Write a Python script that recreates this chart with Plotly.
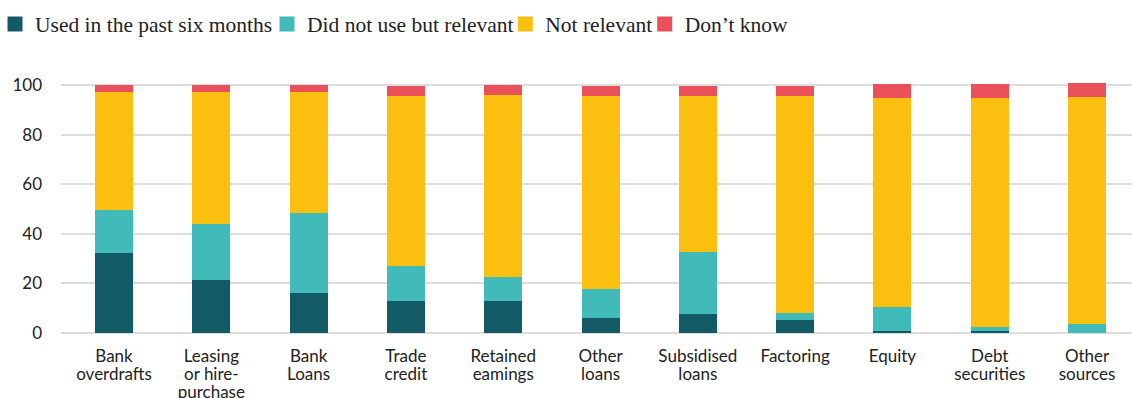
import plotly.graph_objects as go

categories = ["Bank<br>overdrafts", "Leasing<br>or hire-<br>purchase", "Bank<br>Loans", "Trade<br>credit",
              "Retained<br>eamings", "Other<br>loans", "Subsidised<br>loans", "Factoring", "Equity",
              "Debt<br>securities", "Other<br>sources"]
used = [32.3, 21.4, 16.2, 12.9, 12.9, 6.1, 7.7, 5.3, 0.6, 0.6, 0]
relevant = [17.4, 22.7, 32.3, 14.2, 9.6, 11.7, 25.0, 2.8, 9.9, 1.8, 3.6]
not_relevant = [47.7, 53.3, 48.9, 68.7, 73.7, 78.0, 63.1, 87.7, 84.5, 92.6, 91.8]
dont_know = [2.8, 2.8, 2.8, 4.0, 4.0, 4.0, 4.0, 4.0, 5.6, 5.6, 5.6]
series_names = ["Used in the past six months", "Did not use but relevant", "Not relevant", "Don’t know"]
y_ticks = [0, 20, 40, 60, 80, 100]

colors = ["#125A66", "#40BBBA", "#FBBF0F", "#E9505A"]
series = [used, relevant, not_relevant, dont_know]
legend_ids = ["legend", "legend2", "legend3", "legend4"]
legend_sq_left = [8.3, 285.0, 523.3, 662.7]
legend_indent = [-5, 0, 0, 0]

W, H = 1132, 398
ML, MR, MT, MB = 61, 0, 70, 62
plot_w = W - ML - MR

# tick labels: smaller base font so that line spacing is tighter, each line re-sized
tick_text = ["<br>".join("<span style='font-size:17px'>%s</span>" % ln for ln in c.split("<br>"))
             for c in categories]

fig = go.Figure()
for name, vals, col in zip(series_names, series, colors):
    fig.add_trace(go.Bar(x=categories, y=vals, name=name, marker=dict(color=col, line=dict(width=0)),
                         width=0.39, showlegend=False))
for name, col, lid in zip(series_names, colors, legend_ids):
    fig.add_trace(go.Scatter(x=[None], y=[None], mode="markers", name=name, legend=lid,
                             marker=dict(symbol="square", size=15, color=col, line=dict(width=0))))

legend_font = dict(family="Liberation Serif", size=21.5, color="#222222")
layout_legends = {}
for lid, sq, ind in zip(legend_ids, legend_sq_left, legend_indent):
    layout_legends[lid] = dict(orientation="h", xref="paper", yref="container",
                               x=(sq - 18 - ML) / plot_w,
                               y=1 - 24 / H, xanchor="left", yanchor="middle", font=legend_font,
                               itemwidth=30, bgcolor="rgba(0,0,0,0)", indentation=ind)

fig.update_layout(
    barmode="stack",
    width=W, height=H,
    margin=dict(l=ML, r=MR, t=MT, b=MB),
    paper_bgcolor="white", plot_bgcolor="white",
    xaxis=dict(type="category", range=[-0.545, 10.462], showgrid=False, showline=False, zeroline=False,
               automargin=False, ticks="", tickvals=categories, ticktext=tick_text,
               ticklabelstandoff=11,
               tickfont=dict(family="Lato", size=14, color="#222222")),
    yaxis=dict(range=[-1.33, 106.2], tickvals=y_ticks, showgrid=True, gridcolor="#DDDDDD", gridwidth=2,
               zeroline=False, showline=False, ticks="", ticklabelstandoff=18, automargin=False,
               tickfont=dict(family="Lato", size=17, color="#222222")),
    **layout_legends,
)
fig.write_html("out.html")
